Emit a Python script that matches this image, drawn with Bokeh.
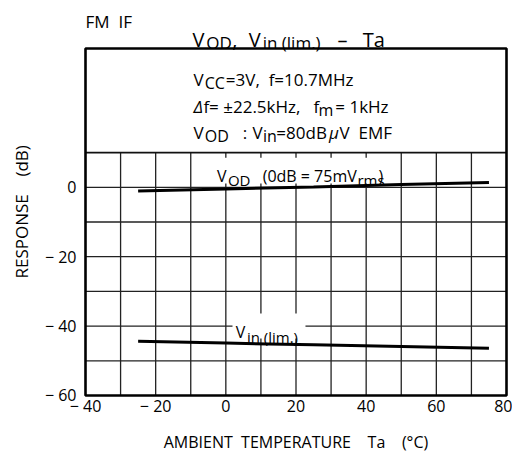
from bokeh.plotting import figure
from bokeh.models import Range1d, FixedTicker, Label
from bokeh.embed import file_html
from bokeh.resources import INLINE

# ---- data ----
temperature = [-25, 0, 25, 50, 75]                 # Ta (degC)
vod_db = [-1.1, -0.5, 0.1, 0.8, 1.4]               # VOD response (dB)
vin_lim_db = [-44.4, -44.9, -45.4, -45.9, -46.4]   # Vin(lim.) (dB)

x_ticks = [-40, -20, 0, 20, 40, 60, 80]
x_tick_labels = ["\u2212 40", "\u2212 20", "0", "20", "40", "60", "80"]
y_ticks = [-60, -40, -20, 0]
y_tick_labels = ["\u2212 60", "\u2212 40", "\u2212 20", "0"]
grid_x = list(range(-40, 81, 10))
grid_y = list(range(-60, 11, 10))
box_top = 40

FONT = "Open Sans"

p = figure(frame_width=425, frame_height=389, output_backend="svg", toolbar_location=None,
           x_range=Range1d(-40.57, 80.57), y_range=Range1d(-60.58, 51.53),
           min_border_left=83, min_border_right=4, min_border_top=8, min_border_bottom=58)
p.background_fill_color = "white"
p.border_fill_color = "white"
p.outline_line_color = None
p.xgrid.grid_line_color = None
p.ygrid.grid_line_color = None

for ax in (p.xaxis[0], p.yaxis[0]):
    ax.axis_line_color = None
    ax.major_tick_line_color = None
    ax.minor_tick_line_color = None
    ax.major_label_text_font = FONT
    ax.major_label_text_font_size = "16px"
    ax.major_label_text_color = "black"
    ax.axis_label_text_font = FONT
    ax.axis_label_text_font_size = "16px"
    ax.axis_label_text_font_style = "normal"
    ax.axis_label_text_color = "black"

p.xaxis.ticker = FixedTicker(ticks=x_ticks)
p.xaxis.major_label_overrides = dict(zip(x_ticks, x_tick_labels))
p.xaxis.major_label_standoff = -9
p.xaxis.axis_label = "AMBIENT\u00a0 TEMPERATURE\u00a0\u00a0\u00a0 Ta\u00a0\u00a0\u00a0 (\u00b0C)"
p.xaxis.axis_label_standoff = 11

p.yaxis.ticker = FixedTicker(ticks=y_ticks)
p.yaxis.major_label_overrides = dict(zip(y_ticks, y_tick_labels))
p.yaxis.major_label_standoff = 1
p.yaxis.axis_label = "RESPONSE\u00a0\u00a0\u00a0 (dB)\u00a0\u00a0\u00a0\u00a0"
p.yaxis.axis_label_text_font_size = "17px"
p.yaxis.axis_label_standoff = 9

# grid only in the lower part of the box
gy0, gy1 = grid_y[0], grid_y[-1]
p.segment(x0=grid_x[1:-1], y0=[gy0] * (len(grid_x) - 2), x1=grid_x[1:-1], y1=[gy1] * (len(grid_x) - 2),
          line_color="#222222", line_width=1.3)
p.segment(x0=[grid_x[0]] * (len(grid_y) - 2), y0=grid_y[1:-1], x1=[grid_x[-1]] * (len(grid_y) - 2), y1=grid_y[1:-1],
          line_color="#222222", line_width=1.3)
p.segment(x0=[grid_x[0]], y0=[gy1], x1=[grid_x[-1]], y1=[gy1], line_color="#111111", line_width=1.6)

# white backgrounds behind curve labels
p.quad(left=[-3.5, 1.9], right=[45.0, 22.7], bottom=[1.1, -43.6], top=[8.5, -36.4],
       fill_color="white", line_color=None)

# outer box
p.quad(left=[x_ticks[0]], right=[x_ticks[-1]], bottom=[y_ticks[0]], top=[box_top],
       fill_color=None, line_color="black", line_width=2.6)

# curves
p.line(temperature, vod_db, line_color="black", line_width=3)
p.line(temperature, vin_lim_db, line_color="black", line_width=3)

def put(text, x, y, size, style="normal"):
    p.add_layout(Label(x=x, y=y, text=text, text_font=FONT, text_font_size=f"{size}px",
                       text_font_style=style, text_color="black",
                       text_align="left", text_baseline="alphabetic"))

# header
put("FM\u00a0 IF", -40.0, 47.8, 17)
put("V", -9.5, 42.5, 20)
put("OD", -5.6, 41.8, 17)
put(",", 1.8, 42.5, 20)
put("V", 6.5, 42.5, 20)
put("in (lim.)", 10.5, 41.6, 17)
put("\u2013", 31.8, 42.5, 20)
put("Ta", 39.0, 42.5, 20)

# conditions box
put("V", -9.2, 31.1, 17)
put("CC", -6.0, 30.0, 16)
put("=3V,\u00a0 f=10.7MHz", 0.0, 31.1, 17)
put("\u0394", -9.2, 23.3, 17, "italic")
put("f= \u00b122.5kHz,", -6.4, 23.3, 17)
put("f", 25.0, 23.3, 17)
put("m", 26.4, 22.2, 16)
put("=\u00a01kHz", 31.2, 23.3, 17)
put("V", -9.2, 15.8, 17)
put("OD", -6.0, 14.7, 16)
put(":", 4.8, 15.8, 17)
put("V", 7.6, 15.8, 17)
put("in", 10.6, 14.7, 16)
put("=80dB", 14.4, 15.8, 17)
put("\u03bc", 29.4, 15.8, 17, "italic")
put("V\u00a0 EMF", 32.4, 15.8, 17)

# curve labels
put("V", -2.5, 3.4, 16)
put("OD", 0.6, 2.1, 15)
put("(0dB = 75mV", 10.5, 3.4, 16)
put("rms", 37.5, 2.2, 15)
put(")", 43.5, 3.4, 16)
put("V", 2.8, -41.8, 16)
put("in (lim.)", 6.0, -43.0, 15)

open("out.html", "w").write(file_html(p, INLINE))
